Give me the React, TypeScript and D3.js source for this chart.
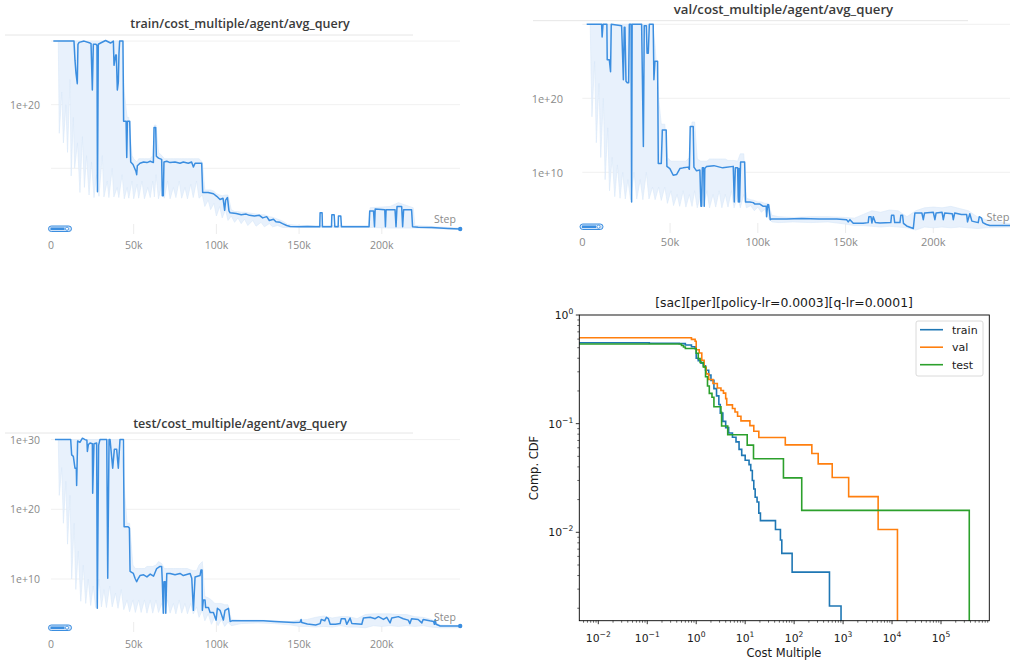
import React from 'react';
import * as d3 from 'd3';

type P = [number, number];
type B = [number, number, number];

// ---------- W&B panels: step (thousands) , log10(avg_query cost multiple) ----------
const stepTicks = [0, 50, 100, 150, 200];
const gridExps = [30, 20, 10];

const trainLine: P[] = [
  [1.4,30],[13.9,30],[14.5,27],[15.1,25],[15.9,23.3],[16.3,29.5],[17,29.8],[20,30],[23.6,29.7],[24.2,29.6],
  [25.0,22.3],[25.6,29.5],[27.2,29.5],[27.8,29.3],[28.1,6.3],[28.6,29.5],[30,29.7],[33,30.1],[36,29.7],[37.7,30],
  [38.1,26.2],[39.1,27.8],[39.5,27.8],[40.1,22.3],[40.7,23.5],[41.1,28],[41.5,30],[43.5,30],[43.9,17.4],[45.4,17.4],
  [45.8,11.7],[46.2,17.4],[47.6,17.4],[48.2,11.0],[49.6,10.6],[51.4,9.5],[51.8,9.0],[52.2,10.4],[53.8,10.8],[56,11.0],
  [58,10.9],[60,11.1],[61.9,10.9],[62.3,16.4],[63.3,16.4],[63.7,11.9],[65,11.6],[66.9,11.4],[67.3,5.7],[67.9,5.7],
  [68.3,11.0],[70,11.1],[72,10.9],[75,11.0],[78,10.8],[80,11.0],[83,10.8],[85,11.0],[86.1,10.2],[87.1,10.8],
  [91.1,10.8],[91.7,6.2],[95,6.2],[98.2,6.0],[100.2,5.6],[102.2,5.1],[104,5.3],[105,3.4],[105.6,5.0],[106.7,5.4],
  [107.6,3.3],[108.3,3.0],[112,2.9],[115,2.7],[118,2.8],[120,2.6],[123,2.5],[126,2.6],[128,2.2],[130.4,2.4],
  [132,1.8],[134.5,2.0],[136,1.6],[138.5,1.5],[140,1.3],[142.5,1.0],[144.6,0.85],[150,0.8],[155,0.85],[160,0.8],
  [162.5,0.8],[162.7,3.0],[163.9,3.0],[164.1,0.8],[169.6,0.8],[169.8,2.7],[171.2,2.7],[171.6,0.8],[173.6,0.8],[173.8,2.5],
  [175.2,2.5],[175.6,0.8],[192.3,0.8],[192.7,3.3],[195,3.3],[195.6,0.8],[196,3.6],[201.8,3.5],[202.2,0.8],[202.6,3.5],
  [208,3.5],[208.6,0.8],[209.2,4.0],[212,4.0],[212.6,0.8],[213.2,3.5],[218,3.5],[218.6,0.8],[222,0.75],[230,0.7],
  [240,0.55],[247.4,0.45],
];

const trainBand: B[] = [
  [4.4,30,30],[5,15.5,30],[6.5,22,30],[7.5,14,30],[9,20,30],[10,12.5,30],[11.5,24,30],[12.2,8.8,30],[13.5,18,30],
  [14.3,10,30],[16,14,30],[17.5,6.2,30],[19,15,30],[20.2,7,30],[21.5,12,30],[23,5.8,30],[24.5,11,30],[26,5.4,30],
  [27.5,9,30],[29,5.6,30],[31,12,30],[32,5.5,30],[34,8,30],[35,5.4,30],[37,10,30],[38,5.5,30],[40,7,30],[41,5.4,30],
  [43,9,30],[44.3,5.2,22],[46,7,18],[47,5.3,18],[49,8,12],[50,5.2,11.5],[52,7.5,11],[53,5.3,11.5],[55,8,11.5],
  [56.5,5.2,11.5],[58.5,7,11.5],[60,5.4,11.5],[61.5,8,12],[62.5,5.5,16.8],[63.5,9,16.8],[65,5.2,12.5],[67,7.5,12],
  [68.5,5.3,11.5],[70.5,8,11.5],[72,5.2,11.5],[74,7,11.5],[75.5,5.4,11.5],[77.5,8,11.5],[79,5.3,11.5],[81,7,11.5],
  [82.5,5.2,11.5],[84.5,7.5,11.5],[86,5.4,11.5],[88,8,11.5],[89.5,5.3,11.5],[91.5,5.8,11],[93,4.0,6.6],[95,5,6.6],
  [96.5,3.5,6.6],[98.5,4.5,6.4],[100,2.5,6],[102,4,5.8],[103.5,2.2,5.7],[105.5,3.5,5.8],[107,1.8,5.8],[109,2.5,3.5],
  [111,1.5,3.2],[113,2.2,3.2],[115,1.3,3.1],[117,2.0,3.1],[119,1.0,3.0],[122,1.8,2.9],[124,0.9,2.8],[127,1.5,2.7],
  [129,0.8,2.7],[132,1.3,2.4],[134,0.8,2.3],[137,1.0,2.0],[140,0.7,1.7],[143,0.7,1.2],[150,0.7,1.0],[192,0.7,1.0],
  [193,0.7,3.8],[205,0.6,4.0],[210,0.6,4.6],[219,0.6,3.8],[220,0.6,1.0],[247,0.4,0.6],
];

const valLine: P[] = [
  [2.5,30],[11.0,30],[11.3,28.3],[11.8,30],[14.0,30],[14.2,25.2],[15.4,25.2],[16.1,23.6],[16.5,30],[22.4,29.8],
  [23.4,22.5],[23.9,29.6],[24.3,29.6],[24.9,22.3],[25.6,22.1],[26.4,22.1],[26.8,30],[27.8,30],[28.1,6.0],[28.4,30],
  [33.8,30],[34.8,13.5],[35.3,29.8],[36.5,29.8],[36.9,26.1],[37.6,26.1],[38.2,30],[40.4,30],[40.8,22.5],[41.4,25],
  [42.9,25],[43.3,11.2],[45,11.2],[45.6,15.7],[47.8,15.7],[48.2,10.8],[49.9,10.5],[51.8,9.6],[53.7,9.7],[55.6,10.5],
  [57.5,10.6],[60.4,10.7],[61.0,10.4],[61.5,16.2],[63.2,16.2],[63.6,10.7],[65.1,10.2],[67.0,10.3],[67.6,5.4],[68.0,5.4],
  [68.4,10.6],[69.2,10.6],[69.5,5.4],[69.8,10.5],[70.8,10.8],[75,10.9],[80,10.6],[86,10.8],[86.6,6.0],[87.2,10.6],
  [88.5,10.6],[88.9,6.0],[89.3,10.5],[89.6,6.0],[90.2,11.4],[92.5,11.4],[93.0,6.0],[95.5,6.0],[97.4,5.9],[98.4,5.7],
  [101.2,5.7],[103.1,5.4],[104.8,5.4],[105.0,4.0],[105.6,5.6],[106.2,5.6],[107.1,3.6],[107.9,3.7],[116.4,3.7],[125,3.75],
  [135,3.7],[145,3.7],[150.6,3.6],[151.5,3.3],[152.5,3.6],[154.4,3.1],[160,3.1],[162.9,3.2],[163.3,4.0],[164.5,4.0],
  [165,3.15],[165.8,4.0],[167,3.2],[169.6,3.15],[175.8,3.2],[176.2,4.2],[177.5,4.2],[178,3.2],[181,3.2],[181.5,4.2],
  [182.5,4.2],[183,3.1],[184.8,2.75],[188.6,2.4],[189.5,4.5],[193.5,4.5],[194.3,3.6],[195,4.5],[200,4.6],[200.9,3.6],
  [201.6,4.5],[205,4.6],[205.7,3.6],[206.5,4.5],[210.8,4.4],[211.4,3.6],[212.2,4.5],[216,4.3],[219,4.3],[219.5,3.3],
  [220.8,4.4],[222,3.4],[225.6,3.2],[226.2,4.0],[227.5,3.8],[228.2,3.2],[230.3,2.95],[232.2,2.8],[245,2.8],
];

const valBand: B[] = [
  [4.5,30,30],[5.5,17.5,30],[7,25,30],[8,14,30],[9.5,22,30],[10.5,12,30],[12,20,30],[13,9,30],[14.5,16,30],
  [15.5,7.5,30],[17,12,30],[18.5,6.7,30],[20,11,30],[21.5,6.5,30],[23,10,30],[24.5,6.4,30],[26,9,30],[27.5,6.3,30],
  [29.5,10,30],[31,6.4,30],[33,9,30],[34.5,6.3,30],[36.5,10,30],[38,6.4,30],[40,8,30],[41.5,6.3,27],[43.5,8,20],
  [45,6.2,16.5],[47,8,16.5],[48.5,5.8,12],[50.5,7.5,11.5],[52,5.5,11.5],[54,7,11.5],[55.5,5.4,11.5],[57.5,7.5,11.5],
  [59,5.3,11.5],[61,7,12],[62.5,5.4,16.8],[64,7.5,16.8],[65.5,5.2,11.8],[67.5,7,11.5],[69,5.3,11.5],[71,7.5,11.5],
  [72.5,5.2,11.8],[74.5,7,11.8],[76,5.3,11.8],[78,7.5,11.8],[79.5,5.2,11.8],[81.5,7,11.8],[83,5.3,11.6],[85,7.5,11.6],
  [86.5,5.2,11.6],[88.5,7,11.5],[90,5.2,12.5],[92,7,12.5],[93.5,5.2,6.5],[96,5.5,6.3],[98,4.8,6.2],[100,5.3,6],
  [102,4.6,6],[104,5,5.8],[106,3.8,5.8],[108,3.3,4.2],[112,3.2,4.0],[120,3.3,3.9],[130,3.2,4.0],[140,3.3,4.0],
  [150,3.0,3.9],[155,2.8,3.8],[160,2.8,4.3],[165,2.7,4.8],[170,2.6,4.6],[175,2.7,4.9],[180,2.6,4.8],[185,2.5,4.0],
  [190,2.2,4.8],[195,2.6,5.2],[200,2.5,5.3],[205,2.6,5.2],[210,2.5,5.4],[215,2.6,5.1],[220,2.5,4.8],[225,2.4,4.0],
  [230,2.5,3.6],[245,2.6,3.0],
];

const testLine: P[] = [
  [2.4,30],[11.9,30],[12.5,27.8],[13.5,27.6],[14.5,25.9],[15.3,25.9],[15.5,23.4],[16.1,29.8],[17.5,29.6],[19,30.2],
  [20.6,30],[21.7,29.9],[22,28.3],[22.6,29.3],[23.6,29.5],[25.0,29.4],[25.2,22.3],[26.0,29.4],[27.6,29.5],[28.0,5.8],
  [28.8,29.2],[29.6,30],[33.7,30],[34.3,10.1],[35.1,30],[35.7,30],[37.3,25.9],[38.3,28.6],[39.7,28.6],[40.7,25.9],
  [41.7,30],[43.8,30],[44.2,17.5],[46.6,17.5],[47.4,17.3],[47.8,11.1],[49.8,10.8],[50.8,10.1],[51.8,9.6],[52.8,10.1],
  [53.8,10.5],[56,10.6],[58,10.3],[60,10.7],[62,10.4],[63.9,11.5],[65.9,11.8],[66.9,11.8],[67.3,9.6],[67.9,5.1],
  [68.3,9.6],[69.1,9.6],[69.4,5.1],[70,10.8],[72,10.8],[75,10.6],[78,10.8],[80,10.5],[84.1,10.8],[85.1,10.1],
  [86.1,5.5],[87.1,10.3],[90.1,10.5],[90.7,11.3],[91.3,11.3],[91.5,5.5],[92.1,7.0],[93.1,7.0],[93.5,5.9],[95.2,5.9],
  [96.2,5.2],[98.2,5.2],[99.8,4.1],[100.6,5.8],[102.2,5.5],[104.2,4.1],[105.2,5.5],[107.3,5.8],[108.3,3.9],[109.3,4.0],
  [120,4.0],[128.4,4.0],[135,3.9],[146.6,3.75],[150.6,3.8],[151.2,4.2],[151.6,3.75],[155,3.55],[160,3.4],[162.7,3.6],
  [163.4,4.2],[165.5,4.0],[166.5,4.5],[167.7,4.3],[168.8,3.5],[172,3.5],[174.8,3.6],[175.5,4.3],[177.8,4.3],[178.8,3.5],
  [180.8,4.4],[181.9,3.6],[187.9,3.5],[188.9,4.4],[193,4.5],[196,4.3],[198,4.6],[201,4.2],[203,4.5],[205,3.7],
  [206,4.4],[210,4.6],[213,4.3],[216,4.1],[217,3.6],[218,4.3],[222,4.2],[224.2,3.7],[225,4.2],[229,4.0],
  [231.3,3.9],[231.8,3.5],[232.3,4.2],[232.8,3.5],[235.3,3.25],[247.4,3.25],
];

const testBand: B[] = [
  [4.4,30,30],[5,22,30],[6.5,26,30],[7.5,18,30],[9,24,30],[10,15,30],[11.5,22,30],[12.5,10,30],[14,18,30],
  [15,8.5,30],[16.5,14,30],[18,6.8,30],[19.5,12,30],[21,6.5,30],[22.5,10,30],[24,6.2,30],[25.5,9,30],[27,5.9,30],
  [29,10,30],[30.5,6,30],[32,8.5,30],[33.5,5.9,30],[35.5,9,30],[37,6,30],[39,8,30],[40.5,5.8,30],[42.5,8.5,30],
  [44,5.6,24],[46,7,18],[47.5,5.3,18],[49.5,7,12],[51,5.2,11.5],[53,7,11.5],[54.5,5.2,11.5],[56.5,7,11.5],
  [58,5.1,11.8],[60,7,11.8],[61.5,5.1,11.8],[63.5,7,12],[65,5.2,12.5],[67,6.5,12.2],[68.5,5.0,11.5],[70.5,7,11.5],
  [72,5.1,11.5],[74,6.5,11.5],[75.5,5.0,11.5],[77.5,7,11.5],[79,5.1,11.5],[81,6.5,11.5],[82.5,5.0,11.5],[84.5,6.5,11.3],
  [86,5.0,11.2],[88,6,11.2],[89.5,4.5,12],[91.5,5.5,12.5],[93,4.0,7.5],[95,5,7.3],[97,3.5,7],[99,4.5,6.5],
  [101,3.3,6.5],[103,4.2,6.5],[105,3.2,6.3],[107,3.8,6.3],[109,3.3,4.2],[115,3.6,4.1],[125,3.7,4.1],[135,3.6,4.0],
  [145,3.4,3.9],[150,3.2,4.1],[155,3.2,4.2],[160,3.1,4.5],[165,3.2,4.7],[170,3.1,4.4],[175,3.3,4.6],[180,3.1,4.6],
  [185,3.1,4.3],[190,3.0,4.9],[195,3.3,5.0],[200,3.2,5.0],[205,3.3,5.0],[210,3.2,4.9],[215,3.3,4.9],[220,3.2,4.6],
  [225,3.3,4.5],[230,3.1,4.2],[235,3.0,3.4],[247,3.0,3.3],
];

// ---------- Complementary CDF (matplotlib) ----------
const cdfTitle = '[sac][per][policy-lr=0.0003][q-lr=0.0001]';
const cdfTrainX = [0.001, 0.11, 0.45, 0.6, 0.8, 0.95, 1.0, 1.1, 1.25, 1.4, 1.55, 1.8, 2.0, 2.3, 2.6, 2.9, 3.1, 3.5, 4.0, 4.6, 5.5, 6.5, 7.5, 8.5, 10, 12, 13, 14, 15, 16, 17.5, 19, 20.5, 41.6, 52.5, 56, 91, 527, 908];
const cdfTrainY = [0.556, 0.549, 0.545, 0.53, 0.51, 0.49, 0.40, 0.38, 0.36, 0.34, 0.31, 0.28, 0.25, 0.21, 0.18, 0.15, 0.125, 0.105, 0.092, 0.082, 0.075, 0.068, 0.058, 0.051, 0.046, 0.042, 0.037, 0.030, 0.025, 0.021, 0.019, 0.015, 0.0128, 0.0106, 0.0085, 0.0064, 0.0043, 0.0021, 0];
const cdfValX = [0.001, 0.8, 0.95, 1.0, 1.15, 1.3, 1.45, 1.6, 1.8, 2.2, 2.7, 3.2, 3.6, 4.0, 4.2, 5.5, 6.2, 7.0, 8.2, 12.5, 15, 19, 66, 230, 310, 600, 1300, 5200, 12900];
const cdfValY = [0.618, 0.596, 0.574, 0.479, 0.447, 0.383, 0.33, 0.287, 0.255, 0.234, 0.213, 0.202, 0.191, 0.17, 0.149, 0.138, 0.128, 0.117, 0.106, 0.096, 0.085, 0.0745, 0.0638, 0.0532, 0.0426, 0.0319, 0.0213, 0.0106, 0];
const cdfTestX = [0.001, 0.5, 0.55, 0.6, 1.0, 1.1, 1.2, 1.4, 1.55, 1.7, 1.85, 2.1, 2.3, 3.2, 3.3, 4.4, 11, 14.8, 60.5, 143, 378000];
const cdfTestY = [0.541, 0.524, 0.508, 0.492, 0.444, 0.397, 0.365, 0.333, 0.27, 0.222, 0.19, 0.175, 0.143, 0.127, 0.095, 0.079, 0.0635, 0.0476, 0.0317, 0.0159, 0];
const cdfSeries = [
  { name: 'train', color: '#1f77b4', xs: cdfTrainX, ys: cdfTrainY },
  { name: 'val', color: '#ff7f0e', xs: cdfValX, ys: cdfValY },
  { name: 'test', color: '#2ca02c', xs: cdfTestX, ys: cdfTestY },
];
const cdfXMajorExp = [-2, -1, 0, 1, 2, 3, 4, 5];
const cdfYMajorExp = [-2, -1, 0];

const LINE = '#3b8ee0';
const WB_FONT = "'Open Sans', 'Noto Sans', sans-serif";
const MPL_FONT = "'DejaVu Sans', sans-serif";

type PanelCfg = {
  key: string; title: string; line: P[]; band: B[];
  x0: number; px50: number; right: number; y10: number; y20: number;
  plotTop: number; plotBottom: number; titleX: number; titleY: number; titleSize: number;
  ulX1: number; ulX2: number; ulY: number; labels: number[]; labelX: number;
  tickY: number; fs: number; stepX: number; stepY: number; scrubX: number; scrubY: number;
};

const panels: PanelCfg[] = [
  { key: 'train', title: 'train/cost_multiple/agent/avg_query', line: trainLine, band: trainBand,
    x0: 51, px50: 82.7, right: 460, y10: 168.3, y20: 104.7, plotTop: 30, plotBottom: 233,
    titleX: 240, titleY: 28, titleSize: 12.5, ulX1: 5, ulX2: 413, ulY: 35, labels: [20], labelX: 40,
    tickY: 249, fs: 10.5, stepX: 445, stepY: 223, scrubX: 48.5, scrubY: 226 },
  { key: 'val', title: 'val/cost_multiple/agent/avg_query', line: valLine, band: valBand,
    x0: 582.3, px50: 87.75, right: 1012, y10: 172.3, y20: 98.3, plotTop: 21, plotBottom: 232,
    titleX: 783.5, titleY: 14, titleSize: 13.2, ulX1: 533, ulX2: 968, ulY: 20.7, labels: [20, 10], labelX: 563,
    tickY: 246, fs: 11, stepX: 998, stepY: 221, scrubX: 580, scrubY: 224 },
  { key: 'test', title: 'test/cost_multiple/agent/avg_query', line: testLine, band: testBand,
    x0: 51, px50: 82.7, right: 460, y10: 579, y20: 509.3, plotTop: 434, plotBottom: 631,
    titleX: 240, titleY: 428, titleSize: 12.5, ulX1: 5, ulX2: 413, ulY: 433, labels: [30, 20, 10], labelX: 40,
    tickY: 648, fs: 10.5, stepX: 445, stepY: 621, scrubX: 48.5, scrubY: 625 },
];

function WandbPanel({ cfg }: { cfg: PanelCfg }) {
  const x = d3.scaleLinear().domain([0, 50]).range([cfg.x0, cfg.x0 + cfg.px50]);
  const y = d3.scaleLog().domain([1e10, 1e20]).range([cfg.y10, cfg.y20]);
  const yv = (e: number) => y(Math.pow(10, e));
  const linePath = d3.line<P>().x(d => x(d[0])).y(d => yv(d[1]))(cfg.line) || '';
  const areaPath = d3.area<B>().x(d => x(d[0])).y0(d => yv(d[1])).y1(d => yv(d[2]))(cfg.band) || '';
  const clipId = `clip-${cfg.key}`;
  const last = cfg.line[cfg.line.length - 1];
  const gridRight = Math.min(cfg.right, 1010);
  return (
    <g fontFamily={WB_FONT}>
      <defs>
        <clipPath id={clipId}>
          <rect x={cfg.x0 - 3} y={cfg.plotTop} width={cfg.right - cfg.x0 + 6} height={cfg.plotBottom - cfg.plotTop} />
        </clipPath>
      </defs>
      <text x={cfg.titleX} y={cfg.titleY} textAnchor="middle" fontSize={cfg.titleSize} fontWeight={600} fill="#3a3a3a">{cfg.title}</text>
      <line x1={cfg.ulX1} x2={cfg.ulX2} y1={cfg.ulY} y2={cfg.ulY} stroke="#e6e6e6" strokeWidth={1} />
      {gridExps.map(e => (
        <line key={e} x1={cfg.x0} x2={gridRight} y1={yv(e)} y2={yv(e)} stroke="#f1f1f1" strokeWidth={1} />
      ))}
      {cfg.labels.map(e => (
        <text key={e} x={cfg.labelX} y={yv(e)} textAnchor="end" dominantBaseline="central" fontSize={cfg.fs} fill="#8a8a8a">{`1e+${e}`}</text>
      ))}
      {stepTicks.map(t => (
        <g key={t}>
          {t > 0 && <line x1={x(t)} x2={x(t)} y1={cfg.plotBottom - 9} y2={cfg.plotBottom + 1} stroke="#ececec" />}
          <text x={x(t)} y={cfg.tickY} textAnchor="middle" fontSize={cfg.fs} fill="#8a8a8a">{t === 0 ? '0' : `${t}k`}</text>
        </g>
      ))}
      <g clipPath={`url(#${clipId})`}>
        <path d={areaPath} fill="#e8f1fc" stroke="#d9e8f9" strokeWidth={0.6} />
        <path d={linePath} fill="none" stroke={LINE} strokeWidth={1.5} strokeLinejoin="round" />
      </g>
      {cfg.right <= 1010 && <circle cx={x(last[0])} cy={yv(last[1])} r={2.2} fill={LINE} />}
      <text x={cfg.stepX} y={cfg.stepY} textAnchor="middle" fontSize={cfg.fs} fill="#8a8a8a">Step</text>
      <rect x={cfg.scrubX} y={cfg.scrubY} width={23} height={5.5} rx={2.75} fill="#cfe2f8" stroke={LINE} strokeWidth={1} />
      <rect x={cfg.scrubX + 2} y={cfg.scrubY + 1.5} width={14} height={2.5} fill={LINE} />
      <circle cx={cfg.scrubX + 18.5} cy={cfg.scrubY + 2.75} r={1.6} fill="#ffffff" stroke={LINE} strokeWidth={0.8} />
    </g>
  );
}

function CdfPanel() {
  const L = 579.3, R = 989.3, T = 315, Bt = 620.7;
  const xs = d3.scaleLog().domain([1e-2, 1e5]).range([598.3, 941.0]);
  const ys = d3.scaleLog().domain([1e-2, 1]).range([532.3, 315]);
  const xMin = xs.invert(L), xMax = xs.invert(R), yMin = ys.invert(Bt);
  const yPix = (v: number) => (v > 0 ? ys(v) : Bt + 10);
  const xMinor: number[] = [];
  for (let e = -3; e <= 5; e++) for (let m = 2; m <= 9; m++) {
    const v = m * Math.pow(10, e);
    if (v > xMin && v < xMax) xMinor.push(v);
  }
  const yMinor: number[] = [];
  for (let e = -3; e <= -1; e++) for (let m = 2; m <= 9; m++) {
    const v = m * Math.pow(10, e);
    if (v > yMin && v < 1) yMinor.push(v);
  }
  const expLabel = (e: number) => (e < 0 ? `\u2212${-e}` : `${e}`);
  return (
    <g fontFamily={MPL_FONT}>
      <defs>
        <clipPath id="cdf-clip"><rect x={L} y={T} width={R - L} height={Bt - T} /></clipPath>
      </defs>
      <text x={784} y={307} textAnchor="middle" fontSize={12.4} fill="#1a1a1a">{cdfTitle}</text>
      <g clipPath="url(#cdf-clip)">
        {cdfSeries.map(s => {
          const pts = s.xs.map((xv, i) => [xs(xv), yPix(s.ys[i])] as P);
          pts.push([R + 20, yPix(s.ys[s.ys.length - 1])]);
          const d = d3.line<P>().curve(d3.curveStepAfter)(pts) || '';
          return <path key={s.name} d={d} fill="none" stroke={s.color} strokeWidth={1.6} />;
        })}
      </g>
      <rect x={L} y={T} width={R - L} height={Bt - T} fill="none" stroke="#000" strokeWidth={0.9} />
      {cdfXMajorExp.map(e => {
        const px = xs(Math.pow(10, e));
        return (
          <g key={e}>
            <line x1={px} x2={px} y1={Bt} y2={Bt + 3.5} stroke="#000" strokeWidth={0.8} />
            <text x={px} y={642} textAnchor="middle" fontSize={10.8} fill="#1a1a1a">10<tspan dy={-5} fontSize={7.6}>{expLabel(e)}</tspan></text>
          </g>
        );
      })}
      {xMinor.map(v => (
        <line key={v} x1={xs(v)} x2={xs(v)} y1={Bt} y2={Bt + 2} stroke="#000" strokeWidth={0.6} />
      ))}
      {cdfYMajorExp.map(e => {
        const py = ys(Math.pow(10, e));
        return (
          <g key={e}>
            <line x1={L - 3.5} x2={L} y1={py} y2={py} stroke="#000" strokeWidth={0.8} />
            <text x={L - 6} y={py + 4} textAnchor="end" fontSize={10.8} fill="#1a1a1a">10<tspan dy={-5} fontSize={7.6}>{expLabel(e)}</tspan></text>
          </g>
        );
      })}
      {yMinor.map(v => (
        <line key={v} x1={L - 2} x2={L} y1={ys(v)} y2={ys(v)} stroke="#000" strokeWidth={0.6} />
      ))}
      <text x={784} y={656.5} textAnchor="middle" fontSize={11.5} fill="#1a1a1a">Cost Multiple</text>
      <text transform={`translate(537.5,468) rotate(-90)`} textAnchor="middle" fontSize={11.5} fill="#1a1a1a">Comp. CDF</text>
      <rect x={916} y={321} width={67} height={55} rx={2} fill="#fff" fillOpacity={0.8} stroke="#d0d0d0" strokeWidth={0.8} />
      {cdfSeries.map((s, i) => (
        <g key={s.name}>
          <line x1={920} x2={943} y1={329.7 + i * 17.5} y2={329.7 + i * 17.5} stroke={s.color} strokeWidth={1.6} />
          <text x={952} y={333.7 + i * 17.5} fontSize={11} fill="#1a1a1a">{s.name}</text>
        </g>
      ))}
    </g>
  );
}

export default function App() {
  return (
    <svg width={1010} height={660} viewBox="0 0 1010 660"
      style={{ position: 'fixed', left: 0, top: 0, background: '#fff' }}>
      <rect x={0} y={0} width={1010} height={660} fill="#fff" />
      {panels.map(p => <WandbPanel key={p.key} cfg={p} />)}
      <CdfPanel />
    </svg>
  );
}
